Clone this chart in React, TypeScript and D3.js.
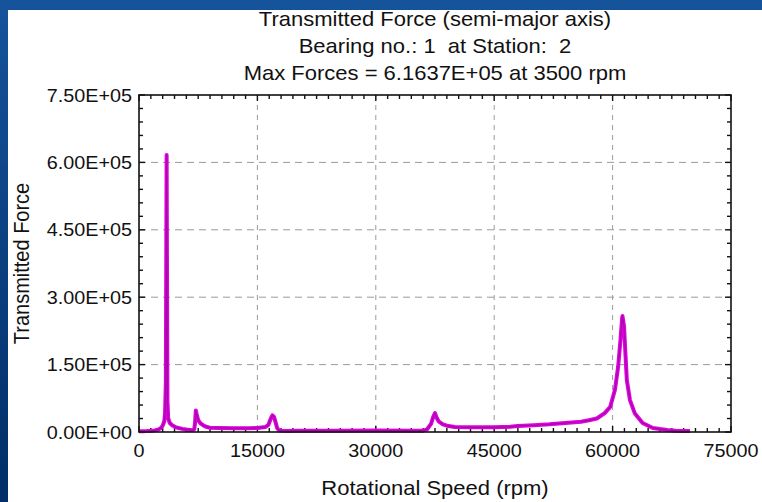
import React, { useEffect, useRef } from 'react';
import * as d3 from 'd3';

const width = 762;
const height = 502;

const titleLines = [
  'Transmitted Force (semi-major axis)',
  'Bearing no.: 1  at Station:  2',
  'Max Forces = 6.1637E+05 at 3500 rpm',
];
const xLabel = 'Rotational Speed (rpm)';
const yLabel = 'Transmitted Force';

const xTicks = [0, 15000, 30000, 45000, 60000, 75000];
const xTickLabels = ['0', '15000', '30000', '45000', '60000', '75000'];
const yTicks = [0, 150000, 300000, 450000, 600000, 750000];
const yTickLabels = ['0.00E+00', '1.50E+05', '3.00E+05', '4.50E+05', '6.00E+05', '7.50E+05'];

// speed (rpm) and transmitted force
const rpm = [
  0, 500, 1000, 1500, 2000, 2500, 2800, 3000, 3200, 3300, 3400, 3500, 3600, 3700, 3900,
  4200, 4600, 5000, 5500, 6000, 6500, 6800, 7000, 7100, 7200, 7300, 7500, 7800, 8200,
  8600, 9000, 10000, 12000, 14000, 15000, 16000, 16400, 16700, 16900, 17100, 17300,
  17500, 17700, 18000, 19000, 20000, 25000, 30000, 35000, 36000, 36500, 37000, 37300,
  37500, 37700, 38000, 38500, 39000, 40000, 42000, 45000, 47000, 48000, 50000, 52000,
  54000, 56000, 57000, 58000, 59000, 59700, 60300, 60700, 61000, 61200, 61250, 61450,
  61600, 61800, 62200, 62800, 63800, 65100, 66000, 66900, 68000, 69000, 69800,
];
const force = [
  1500, 1800, 2000, 2500, 3500, 6000, 9000, 14000, 24000, 40000, 110000, 616370, 70000,
  30000, 20000, 15000, 11000, 9000, 7000, 5500, 4500, 4000, 6000, 20000, 48000, 40000,
  26000, 19000, 14000, 11000, 9500, 9000, 8500, 8500, 9000, 11000, 16000, 30000, 37000,
  34000, 22000, 9000, 4000, 3000, 2500, 3000, 3000, 3200, 3000, 3000, 6000, 18000,
  35000, 42000, 32000, 23000, 17000, 14000, 11000, 10500, 10500, 11500, 13500, 15000,
  17000, 20000, 23000, 26000, 30000, 42000, 56000, 94000, 145000, 205000, 252000, 258000,
  235000, 183000, 116000, 71000, 42000, 20000, 9000, 6500, 4500, 3000, 2300, 2000,
];

const data = rpm.map((r, i) => ({ r, f: force[i] }));

const left = 139;
const right = 731;
const top = 95;
const bottom = 432;
const font = '"Liberation Sans", Arial, sans-serif';
const stretch = 1.1;

const x = d3.scaleLinear().domain([0, 75000]).range([left, right]);
const y = d3.scaleLinear().domain([0, 750000]).range([bottom, top]);

const App = () => {
  const ref = useRef<SVGSVGElement>(null);

  useEffect(() => {
    const svg = d3.select(ref.current);
    svg.selectAll('*').remove();

    const defs = svg.append('defs');
    const grad = defs
      .append('linearGradient')
      .attr('id', 'bg')
      .attr('x1', 0)
      .attr('y1', 0)
      .attr('x2', 0)
      .attr('y2', 1);
    grad.append('stop').attr('offset', '0%').attr('stop-color', '#15539b');
    grad.append('stop').attr('offset', '100%').attr('stop-color', '#012e66');

    svg.append('rect').attr('width', width).attr('height', height).attr('fill', 'url(#bg)');
    svg
      .append('rect')
      .attr('x', 8)
      .attr('y', 10)
      .attr('width', width - 8)
      .attr('height', height - 10)
      .attr('fill', '#ffffff');

    const text = (
      str: string,
      tx: number,
      ty: number,
      size: number,
      anchor: string,
      rotate = 0
    ) => {
      const g = svg
        .append('g')
        .attr(
          'transform',
          rotate
            ? `translate(${tx},${ty}) rotate(${rotate}) scale(1,${stretch})`
            : `translate(${tx},${ty}) scale(${stretch},1)`
        );
      g.append('text')
        .attr('text-anchor', anchor)
        .attr('font-family', font)
        .attr('font-size', size)
        .attr('fill', '#111')
        .style('white-space', 'pre')
        .text(str);
    };

    // grid
    const grid = svg.append('g').attr('stroke', '#9a9a9a').attr('stroke-width', 1);
    xTicks.slice(1, -1).forEach(t => {
      grid
        .append('line')
        .attr('x1', x(t))
        .attr('x2', x(t))
        .attr('y1', top)
        .attr('y2', bottom)
        .attr('stroke-dasharray', '5,5');
    });
    yTicks.slice(1, -1).forEach(t => {
      grid
        .append('line')
        .attr('x1', left)
        .attr('x2', right)
        .attr('y1', y(t))
        .attr('y2', y(t))
        .attr('stroke-dasharray', '7,5');
    });

    // ticks on all four sides, pointing inward
    const ticks = svg.append('g').attr('stroke', '#111').attr('stroke-width', 1.4);
    d3.range(0, 75001, 1500).forEach(t => {
      const len = t % 15000 === 0 ? 6 : 4;
      ticks.append('line').attr('x1', x(t)).attr('x2', x(t)).attr('y1', top).attr('y2', top + len);
      ticks
        .append('line')
        .attr('x1', x(t))
        .attr('x2', x(t))
        .attr('y1', bottom)
        .attr('y2', bottom - len);
    });
    d3.range(0, 750001, 30000).forEach(t => {
      const len = t % 150000 === 0 ? 6 : 4;
      ticks.append('line').attr('x1', left).attr('x2', left + len).attr('y1', y(t)).attr('y2', y(t));
      ticks
        .append('line')
        .attr('x1', right)
        .attr('x2', right - len)
        .attr('y1', y(t))
        .attr('y2', y(t));
    });

    // curve
    const line = d3
      .line<{ r: number; f: number }>()
      .x(d => x(d.r))
      .y(d => y(d.f));
    svg
      .append('path')
      .datum(data)
      .attr('d', line)
      .attr('fill', 'none')
      .attr('stroke', '#e000e0')
      .attr('stroke-width', 4)
      .attr('stroke-linejoin', 'round');
    svg
      .append('path')
      .datum(data)
      .attr('d', line)
      .attr('fill', 'none')
      .attr('stroke', '#6e1470')
      .attr('stroke-width', 1.2)
      .attr('stroke-opacity', 0.55)
      .attr('stroke-linejoin', 'round');

    // frame
    svg
      .append('rect')
      .attr('x', left)
      .attr('y', top)
      .attr('width', right - left)
      .attr('height', bottom - top)
      .attr('fill', 'none')
      .attr('stroke', '#111')
      .attr('stroke-width', 1.6);

    // labels
    xTicks.forEach((t, i) => text(xTickLabels[i], x(t), bottom + 25, 18, 'middle'));
    yTicks.forEach((t, i) => text(yTickLabels[i], left - 7, y(t) + 6.5, 18, 'end'));

    titleLines.forEach((s, i) => text(s, (left + right) / 2, 26 + i * 27, 20, 'middle'));
    text(xLabel, (left + right) / 2, 495, 20, 'middle');
    text(yLabel, 29, (top + bottom) / 2, 20, 'middle', -90);
  });

  return (
    <svg
      ref={ref}
      width={width}
      height={height}
      style={{ position: 'absolute', left: 0, top: 0 }}
    ></svg>
  );
};

export default App;
